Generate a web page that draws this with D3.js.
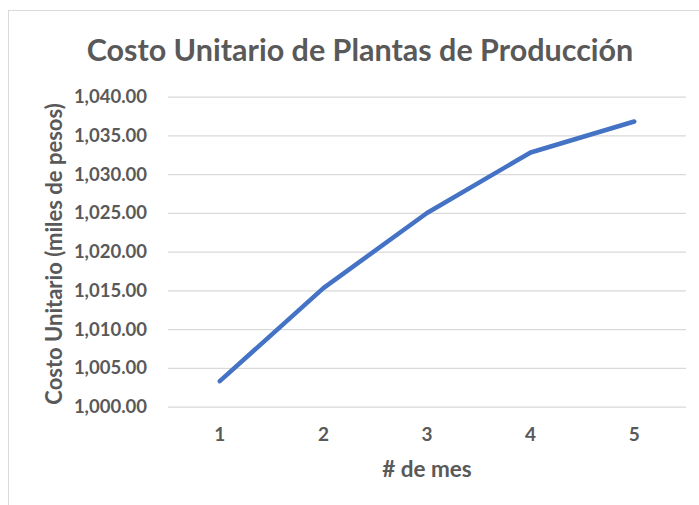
<!DOCTYPE html>
<html>
<head>
<meta charset="utf-8">
<script src="https://cdn.jsdelivr.net/npm/d3@7"></script>
<style>
  body { margin: 0; background: #fff; }
  text { font-family: Lato, "Open Sans", sans-serif; font-weight: bold; fill: #595959; }
</style>
</head>
<body>
<div id="chart"></div>
<script>
// data
const months = ["1", "2", "3", "4", "5"];
const costs = [1003.3, 1015.3, 1025.0, 1032.8, 1036.8];
const yTicks = [1000, 1005, 1010, 1015, 1020, 1025, 1030, 1035, 1040];

const width = 699, height = 505;
const margin = {top: 96.7, right: 13, bottom: 98.3, left: 168};

const svg = d3.select('#chart').append('svg')
  .attr('width', width).attr('height', height);

// chart area border
svg.append('rect').attr('x', 8.5).attr('y', 10.5)
  .attr('width', width + 20).attr('height', height + 20)
  .attr('fill', 'none').attr('stroke', '#d9d9d9');

const x = d3.scaleBand().domain(months).range([margin.left, width - margin.right]);
const y = d3.scaleLinear().domain([1000, 1040]).range([height - margin.bottom, margin.top]);

// gridlines
svg.append('g')
  .attr('transform', `translate(${margin.left},0)`)
  .call(d3.axisLeft(y).tickValues(yTicks).tickSize(-(width - margin.left - margin.right)).tickFormat(''))
  .call(g => g.select('.domain').remove())
  .call(g => g.selectAll('line').attr('stroke', '#d9d9d9').attr('stroke-width', 1.2));

// y labels
svg.append('g')
  .attr('transform', `translate(${margin.left - 21},0)`)
  .call(d3.axisLeft(y).tickValues(yTicks).tickSize(0).tickPadding(0).tickFormat(d3.format(',.2f')))
  .call(g => g.select('.domain').remove())
  .call(g => g.selectAll('text').attr('font-size', 18.5).attr('fill', '#595959').attr('font-family', null));

// x labels
svg.append('g')
  .attr('transform', `translate(0,${height - margin.bottom})`)
  .call(d3.axisBottom(x).tickSize(0).tickPadding(21))
  .call(g => g.select('.domain').remove())
  .call(g => g.selectAll('text').attr('font-size', 19).attr('fill', '#595959').attr('font-family', null));

// line
const line = d3.line()
  .x((d, i) => x(months[i]) + x.bandwidth() / 2)
  .y(d => y(d));

svg.append('path').datum(costs)
  .attr('d', line)
  .attr('fill', 'none')
  .attr('stroke', '#4472C4')
  .attr('stroke-width', 4.5)
  .attr('stroke-linecap', 'round')
  .attr('stroke-linejoin', 'round');

// titles
svg.append('text').attr('x', 360).attr('y', 61)
  .attr('text-anchor', 'middle').attr('font-size', 30.5)
  .text('Costo Unitario de Plantas de Producción');

svg.append('text').attr('x', 427).attr('y', 477)
  .attr('text-anchor', 'middle').attr('font-size', 22.5)
  .text('# de mes');

svg.append('text')
  .attr('transform', 'translate(62,254) rotate(-90)')
  .attr('text-anchor', 'middle').attr('font-size', 22)
  .text('Costo Unitario (miles de pesos)');
</script>
</body>
</html>
